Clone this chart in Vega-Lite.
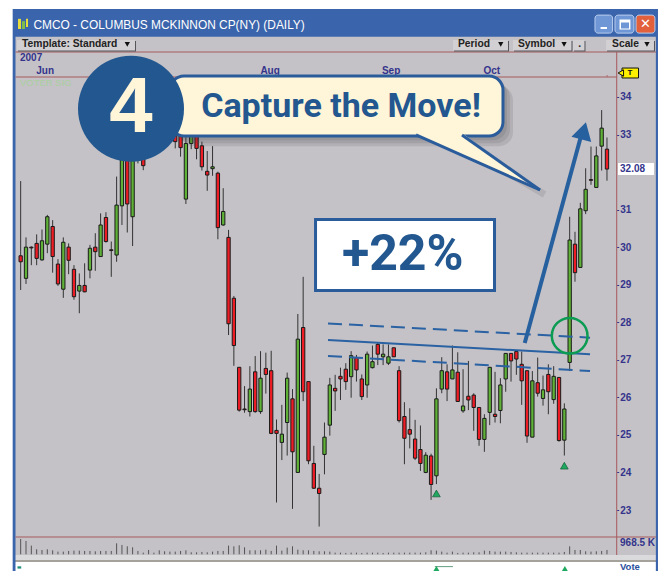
{"$schema":"https://vega.github.io/schema/vega-lite/v6.json","width":665,"height":571,"padding":0,"autosize":{"type":"none"},"background":"#FFFFFF","config":{"view":{"stroke":null}},"resolve":{"scale":{"y":"independent"}},
"datasets":{
"candles":[
{"x":0,"o":29.77,"h":31.76,"l":28.86,"c":29.61,"v":970},{"x":1,"o":29.17,"h":30.26,"l":29.02,"c":30.0,"v":844},{"x":2,"o":30.0,"h":30.02,"l":29.52,"c":29.98,"v":549},{"x":3,"o":30.1,"h":30.34,"l":29.52,"c":29.7,"v":317},{"x":4,"o":29.66,"h":30.47,"l":29.64,"c":30.17,"v":274},{"x":5,"o":30.08,"h":30.86,"l":29.84,"c":30.81,"v":317},{"x":6,"o":30.55,"h":30.72,"l":29.32,"c":29.75,"v":253},{"x":7,"o":29.55,"h":29.68,"l":28.97,"c":29.02,"v":169},{"x":8,"o":28.88,"h":30.26,"l":28.65,"c":30.13,"v":169},{"x":9,"o":30.0,"h":30.1,"l":29.28,"c":29.65,"v":211},
{"x":10,"o":29.41,"h":29.52,"l":28.6,"c":28.68,"v":232},{"x":11,"o":28.83,"h":29.3,"l":28.24,"c":28.98,"v":232},{"x":12,"o":28.98,"h":29.57,"l":28.8,"c":28.81,"v":211},{"x":13,"o":29.39,"h":30.06,"l":29.17,"c":29.97,"v":211},{"x":14,"o":30.0,"h":30.37,"l":29.37,"c":29.88,"v":190},{"x":15,"o":29.75,"h":30.9,"l":29.75,"c":30.59,"v":211},{"x":16,"o":30.79,"h":30.93,"l":30.12,"c":30.15,"v":211},{"x":17,"o":29.93,"h":30.15,"l":29.21,"c":29.91,"v":211},{"x":18,"o":29.79,"h":31.88,"l":29.61,"c":31.12,"v":696},{"x":19,"o":31.1,"h":33.4,"l":30.59,"c":33.1,"v":591},
{"x":20,"o":33.4,"h":33.6,"l":30.39,"c":31.15,"v":506},{"x":21,"o":30.81,"h":33.3,"l":30.03,"c":33.0,"v":443},{"x":22,"o":32.35,"h":32.8,"l":32.23,"c":32.33,"v":211},{"x":23,"o":32.6,"h":33.0,"l":32.05,"c":32.17,"v":105},{"x":24,"o":33.3,"h":33.9,"l":33.2,"c":33.7,"v":274},{"x":25,"o":33.8,"h":34.0,"l":33.3,"c":33.5,"v":105},{"x":26,"o":33.4,"h":34.0,"l":33.3,"c":33.8,"v":253},{"x":27,"o":33.7,"h":33.9,"l":33.2,"c":33.4,"v":190},{"x":28,"o":33.3,"h":33.8,"l":33.2,"c":33.6,"v":169},{"x":29,"o":33.2,"h":33.4,"l":32.63,"c":32.81,"v":169},
{"x":30,"o":33.2,"h":33.3,"l":32.41,"c":32.65,"v":211},{"x":31,"o":31.28,"h":33.1,"l":31.15,"c":32.76,"v":253},{"x":32,"o":32.76,"h":33.4,"l":32.61,"c":33.2,"v":127},{"x":33,"o":33.1,"h":33.3,"l":32.34,"c":32.63,"v":127},{"x":34,"o":32.7,"h":32.81,"l":32.04,"c":32.14,"v":148},{"x":35,"o":32.02,"h":32.56,"l":31.5,"c":31.92,"v":127},{"x":36,"o":32.09,"h":32.69,"l":31.9,"c":32.14,"v":169},{"x":37,"o":31.97,"h":32.01,"l":30.21,"c":30.52,"v":211},{"x":38,"o":30.59,"h":31.57,"l":30.57,"c":30.95,"v":211},{"x":39,"o":30.26,"h":30.46,"l":27.66,"c":27.96,"v":549},
{"x":40,"o":28.64,"h":28.7,"l":26.84,"c":27.38,"v":506},{"x":41,"o":26.8,"h":26.8,"l":25.62,"c":25.66,"v":570},{"x":42,"o":25.69,"h":26.3,"l":25.59,"c":25.67,"v":443},{"x":43,"o":25.62,"h":26.83,"l":25.49,"c":26.22,"v":253},{"x":44,"o":26.68,"h":27.1,"l":25.59,"c":25.62,"v":253},{"x":45,"o":25.62,"h":27.23,"l":25.56,"c":26.51,"v":253},{"x":46,"o":26.77,"h":27.19,"l":26.1,"c":26.61,"v":295},{"x":47,"o":26.71,"h":27.24,"l":25.02,"c":25.04,"v":211},{"x":48,"o":25.12,"h":25.41,"l":23.2,"c":25.04,"v":549},{"x":49,"o":24.8,"h":25.8,"l":24.33,"c":25.02,"v":232},
{"x":50,"o":25.33,"h":26.66,"l":24.45,"c":26.51,"v":422},{"x":51,"o":25.96,"h":26.22,"l":23.03,"c":24.55,"v":506},{"x":52,"o":24.0,"h":28.22,"l":24.0,"c":27.55,"v":295},{"x":53,"o":27.86,"h":29.21,"l":25.9,"c":26.15,"v":253},{"x":54,"o":26.42,"h":26.42,"l":24.22,"c":24.31,"v":253},{"x":55,"o":24.24,"h":24.71,"l":23.56,"c":23.58,"v":211},{"x":56,"o":23.58,"h":23.96,"l":22.56,"c":23.44,"v":190},{"x":57,"o":24.48,"h":25.33,"l":23.95,"c":24.94,"v":190},{"x":58,"o":25.26,"h":26.52,"l":24.98,"c":26.33,"v":169},{"x":59,"o":26.24,"h":26.6,"l":25.64,"c":26.17,"v":105},
{"x":60,"o":26.56,"h":26.79,"l":25.93,"c":26.49,"v":105},{"x":61,"o":26.75,"h":26.91,"l":26.2,"c":26.42,"v":84},{"x":62,"o":26.55,"h":27.23,"l":25.99,"c":27.11,"v":105},{"x":63,"o":27.06,"h":27.13,"l":26.42,"c":26.73,"v":105},{"x":64,"o":26.49,"h":26.61,"l":25.93,"c":26.02,"v":84},{"x":65,"o":26.33,"h":27.22,"l":25.99,"c":27.15,"v":105},{"x":66,"o":26.79,"h":27.38,"l":26.77,"c":26.95,"v":105},{"x":67,"o":27.41,"h":27.47,"l":26.86,"c":27.15,"v":105},{"x":68,"o":27.08,"h":27.41,"l":26.86,"c":27.15,"v":84},{"x":69,"o":26.91,"h":27.41,"l":26.86,"c":27.08,"v":105},
{"x":70,"o":27.32,"h":27.32,"l":27.08,"c":27.08,"v":105},{"x":71,"o":26.71,"h":26.83,"l":25.33,"c":25.38,"v":105},{"x":72,"o":25.49,"h":25.87,"l":24.22,"c":24.91,"v":105},{"x":73,"o":25.14,"h":25.71,"l":24.64,"c":25.02,"v":105},{"x":74,"o":24.89,"h":25.4,"l":24.33,"c":24.38,"v":105},{"x":75,"o":24.61,"h":25.25,"l":24.04,"c":24.24,"v":105},{"x":76,"o":24.0,"h":24.54,"l":23.98,"c":24.46,"v":127},{"x":77,"o":24.44,"h":24.5,"l":23.27,"c":23.68,"v":253},{"x":78,"o":23.91,"h":26.24,"l":23.69,"c":25.96,"v":232},{"x":79,"o":26.22,"h":27.07,"l":26.11,"c":26.71,"v":169},
{"x":80,"o":26.68,"h":26.88,"l":25.9,"c":26.22,"v":105},{"x":81,"o":26.49,"h":27.38,"l":26.49,"c":26.73,"v":169},{"x":82,"o":26.67,"h":27.2,"l":25.89,"c":25.89,"v":84},{"x":83,"o":25.64,"h":26.75,"l":25.59,"c":25.77,"v":105},{"x":84,"o":26.03,"h":26.97,"l":25.66,"c":25.93,"v":105},{"x":85,"o":26.06,"h":26.11,"l":25.11,"c":25.73,"v":127},{"x":86,"o":25.73,"h":25.73,"l":24.71,"c":24.88,"v":127},{"x":87,"o":24.88,"h":25.55,"l":24.55,"c":25.44,"v":232},{"x":88,"o":25.6,"h":26.8,"l":25.26,"c":26.8,"v":211},{"x":89,"o":25.55,"h":26.68,"l":25.33,"c":25.49,"v":169},
{"x":90,"o":25.65,"h":26.51,"l":25.31,"c":26.33,"v":169},{"x":91,"o":26.49,"h":27.17,"l":26.15,"c":27.17,"v":169},{"x":92,"o":27.17,"h":27.17,"l":26.42,"c":26.97,"v":148},{"x":93,"o":27.22,"h":27.26,"l":26.6,"c":27.02,"v":127},{"x":94,"o":26.88,"h":27.22,"l":25.8,"c":26.44,"v":105},{"x":95,"o":26.71,"h":26.71,"l":24.79,"c":24.97,"v":105},{"x":96,"o":24.94,"h":26.7,"l":24.94,"c":26.44,"v":105},{"x":97,"o":26.39,"h":27.06,"l":26.02,"c":26.11,"v":105},{"x":98,"o":25.97,"h":26.58,"l":25.78,"c":26.2,"v":105},{"x":99,"o":26.61,"h":26.88,"l":25.55,"c":26.15,"v":105},
{"x":100,"o":25.94,"h":26.83,"l":25.83,"c":26.56,"v":105},{"x":101,"o":26.53,"h":26.53,"l":24.82,"c":24.85,"v":105},{"x":102,"o":24.86,"h":25.84,"l":24.45,"c":25.69,"v":148},{"x":103,"o":26.93,"h":30.81,"l":26.7,"c":30.19,"v":506},{"x":104,"o":30.08,"h":30.41,"l":29.08,"c":29.32,"v":274},{"x":105,"o":29.46,"h":31.18,"l":29.46,"c":31.02,"v":274},{"x":106,"o":30.97,"h":32.1,"l":30.88,"c":31.54,"v":190},{"x":107,"o":31.8,"h":32.68,"l":31.66,"c":31.78,"v":169},{"x":108,"o":31.59,"h":32.68,"l":31.59,"c":32.43,"v":190},{"x":109,"o":32.69,"h":33.65,"l":32.04,"c":33.17,"v":211},{"x":110,"o":32.61,"h":32.92,"l":31.77,"c":32.08,"v":274}
],
"panels":[
{"part":"window","x":-1.5,"x2":119.57,"y":36.34,"y2":21.3755},
{"part":"body","x":-0.97,"x2":119.17,"y":35.6,"y2":21.8},
{"part":"band","x":-0.97,"x2":119.17,"y":21.8,"y2":21.67},
{"part":"bandline","x":-0.97,"x2":119.17,"y":21.67,"y2":21.615},
{"part":"paper","x":-0.97,"x2":119.17,"y":21.615,"y2":21.3755},
{"part":"hline","x":-0.97,"x2":119.17,"y":35.21,"y2":35.184},
{"part":"hline","x":-0.97,"x2":111.83,"y":34.545,"y2":34.518},
{"part":"hline","x":-0.97,"x2":119.17,"y":22.295,"y2":22.268},
{"part":"hline","x":111.73,"x2":111.92,"y":35.2,"y2":21.8},
{"part":"hline","x":109.95,"x2":110.1,"y":34.585,"y2":34.53},
{"part":"shade","x":-0.5,"x2":21.64,"y":35.49,"y2":35.21},
{"part":"shade","x":81.3,"x2":91.62,"y":35.49,"y2":35.21},
{"part":"shade","x":92.56,"x2":103.53,"y":35.49,"y2":35.21},
{"part":"shade","x":103.82,"x2":105.97,"y":35.49,"y2":35.21},
{"part":"shade","x":110.01,"x2":119.01,"y":35.49,"y2":35.21},
{"part":"button","x":-0.69,"x2":21.45,"y":35.517,"y2":35.237},
{"part":"button","x":81.1,"x2":91.43,"y":35.517,"y2":35.237},
{"part":"button","x":92.37,"x2":103.34,"y":35.517,"y2":35.237},
{"part":"button","x":103.63,"x2":105.78,"y":35.517,"y2":35.237},
{"part":"button","x":109.82,"x2":118.82,"y":35.517,"y2":35.237},
{"part":"iconY","x":-0.5,"x2":0.06,"y":36.08,"y2":35.81},
{"part":"iconG","x":0.25,"x2":0.81,"y":36.02,"y2":35.81},
{"part":"iconY","x":1.0,"x2":1.38,"y":36.08,"y2":35.86},
{"part":"teal","x":-0.6,"x2":0.1,"y":21.5,"y2":21.44}
],
"controls":[
{"part":"min","x":107.75,"x2":111.05,"y":36.18,"y2":35.7},
{"part":"max","x":111.5,"x2":115.06,"y":36.18,"y2":35.7},
{"part":"close","x":115.45,"x2":119.0,"y":36.18,"y2":35.7}
],
"glyphs":[
{"part":"white","x":108.8,"x2":110.0,"y":35.863,"y2":35.81},
{"part":"white","x":112.35,"x2":114.4,"y":36.063,"y2":35.796},
{"part":"blue","x":112.63,"x2":114.13,"y":35.983,"y2":35.823}
]
},
"encoding":{
"x":{"field":"x","type":"quantitative","title":null,"axis":null,"scale":{"domain":[-3.878,120.886],"nice":false,"zero":false,"padding":0}},
"y":{"field":"y","type":"quantitative","title":null,"axis":null,"scale":{"domain":[21.3755,36.582],"nice":false,"zero":false}}
},
"layer":[
{"data":{"name":"panels"},"mark":{"type":"rect"},"encoding":{"x2":{"field":"x2"},"y2":{"field":"y2"},"color":{"field":"part","type":"nominal","legend":null,"scale":{"domain":["window","body","band","bandline","paper","hline","shade","button","iconY","iconG","teal"],"range":["#3A64AB","#C4C2C6","#DAD9DB","#A5A29C","#FFFFFF","#A65A5E","#55555A","#D2D0D2","#E6DC3C","#7DBB4A","#1F8F78"]}}}},
{"data":{"name":"controls"},"mark":{"type":"rect","cornerRadius":3,"stroke":"#B9CDEE","strokeWidth":1},"encoding":{"x2":{"field":"x2"},"y2":{"field":"y2"},"color":{"condition":{"test":"datum.part=='close'","value":"#E2613C"},"value":"#6F97D6"}}},
{"data":{"name":"glyphs"},"mark":{"type":"rect"},"encoding":{"x2":{"field":"x2"},"y2":{"field":"y2"},"color":{"condition":{"test":"datum.part=='blue'","value":"#6F97D6"},"value":"#FFFFFF"}}},
{"data":{"values":[{"x":117.23,"y":35.943,"t":"✕"}]},"mark":{"type":"text","font":"DejaVu Sans","fontWeight":"bold","fontSize":13,"color":"#FFFFFF","align":"center","baseline":"middle"},"encoding":{"text":{"field":"t"}}},
{"data":{"values":[{"x":2.4,"y":35.916,"t":"CMCO - COLUMBUS MCKINNON CP(NY) (DAILY)"}]},"mark":{"type":"text","font":"Liberation Sans","fontSize":11.9,"color":"#FFFFFF","align":"left","baseline":"middle"},"encoding":{"text":{"field":"t"}}},
{"data":{"values":[{"x":0.25,"y":35.397,"t":"Template: Standard"},{"x":82.05,"y":35.397,"t":"Period"},{"x":93.3,"y":35.397,"t":"Symbol"},{"x":104.6,"y":35.397,"t":"."},{"x":110.95,"y":35.397,"t":"Scale"}]},"mark":{"type":"text","font":"Liberation Sans","fontWeight":"bold","fontSize":10.3,"color":"#222222","align":"left","baseline":"middle"},"encoding":{"text":{"field":"t"}}},
{"data":{"values":[{"x":20,"y":35.4},{"x":90.07,"y":35.4},{"x":101.95,"y":35.4},{"x":117.5,"y":35.4}]},"mark":{"type":"point","shape":"triangle-down","filled":true,"size":28,"color":"#111111","opacity":1}},
{"data":{"values":[{"x":-0.126,"y":35.037,"t":"2007"}]},"mark":{"type":"text","font":"Liberation Sans","fontWeight":"bold","fontSize":10,"color":"#34348C","align":"left","baseline":"middle"},"encoding":{"text":{"field":"t"}}},
{"data":{"values":[{"x":4.6,"y":34.69,"t":"Jun"},{"x":46.8,"y":34.69,"t":"Aug"},{"x":69.5,"y":34.69,"t":"Sep"},{"x":88.4,"y":34.69,"t":"Oct"}]},"mark":{"type":"text","font":"Liberation Sans","fontWeight":"bold","fontSize":10,"color":"#34348C","align":"center","baseline":"middle"},"encoding":{"text":{"field":"t"}}},
{"data":{"values":[{"x":-0.126,"y":34.37,"t":"VOTER SIG"}]},"mark":{"type":"text","font":"Liberation Sans","fontSize":9.5,"color":"#A9CFA0","align":"left","baseline":"middle"},"encoding":{"text":{"field":"t"}}},
{"data":{"name":"candles"},"mark":{"type":"rule","color":"#555555","strokeWidth":1},"encoding":{"y":{"field":"v","type":"quantitative","title":null,"axis":null,"scale":{"domain":[-1057,35087],"nice":false,"zero":false}},"y2":{"datum":0}}},
{"data":{"name":"candles"},"mark":{"type":"rule","color":"#333333","strokeWidth":1},"encoding":{
"y":{"field":"h","type":"quantitative","title":null,"scale":{"domain":[21.3755,36.582],"nice":false,"zero":false},"axis":{"orient":"right","offset":-48.3,"values":[23,24,25,26,27,28,29,30,31,33,34],"format":"d","tickSize":2,"tickColor":"#34348C","domain":false,"grid":false,"labelPadding":1,"labelFont":"Liberation Sans","labelFontWeight":"bold","labelFontSize":10,"labelColor":"#34348C","labelOverlap":false,"zindex":1}},"y2":{"field":"l"}}},
{"data":{"name":"candles"},"mark":{"type":"bar","width":3.3,"stroke":"#1A1A1A","strokeWidth":1},"encoding":{"y":{"field":"o","type":"quantitative","title":null,"axis":null,"scale":{"domain":[21.3755,36.582],"nice":false,"zero":false}},"y2":{"field":"c"},"color":{"condition":{"test":"datum.c>datum.o","value":"#5FB137"},"value":"#EE1C25"}}},
{"data":{"values":[{"x":112.07,"x2":118.82,"y":32.241,"y2":31.921}]},"mark":{"type":"rect","color":"#FFFFFF"},"encoding":{"x2":{"field":"x2"},"y2":{"field":"y2"}}},
{"data":{"values":[{"x":112.45,"y":32.068,"t":"32.08"}]},"mark":{"type":"text","font":"Liberation Sans","fontWeight":"bold","fontSize":10,"color":"#34348C","align":"left","baseline":"middle"},"encoding":{"text":{"field":"t"}}},
{"data":{"values":[{"x":112.45,"y":22.13,"t":"968.5 K"}]},"mark":{"type":"text","font":"Liberation Sans","fontWeight":"bold","fontSize":10,"color":"#34348C","align":"left","baseline":"middle"},"encoding":{"text":{"field":"t"}}},
{"data":{"values":[{"x":112.82,"x2":115.92,"y":34.77,"y2":34.505}]},"mark":{"type":"rect","color":"#FFF000","stroke":"#111111","strokeWidth":1},"encoding":{"x2":{"field":"x2"},"y2":{"field":"y2"}}},
{"data":{"values":[{"x":112.6,"y":34.638}]},"mark":{"type":"point","shape":"triangle-left","filled":true,"size":40,"color":"#FFF000","stroke":"#111111","strokeWidth":1,"opacity":1}},
{"data":{"values":[{"x":114.3,"y":34.638,"t":"T"}]},"mark":{"type":"text","font":"Liberation Sans","fontWeight":"bold","fontSize":8,"color":"#111111","align":"center","baseline":"middle"},"encoding":{"text":{"field":"t"}}},
{"data":{"values":[{"x":114.3,"y":21.49,"t":"Vote"}]},"mark":{"type":"text","font":"Liberation Sans","fontWeight":"bold","fontSize":9.5,"color":"#2A4F9E","align":"center","baseline":"middle"},"encoding":{"text":{"field":"t"}}},
{"data":{"values":[{"x":77.7,"x2":81.1,"y":21.5,"y2":21.48}]},"mark":{"type":"rect","color":"#2F7F55"},"encoding":{"x2":{"field":"x2"},"y2":{"field":"y2"}}},
{"data":{"values":[{"x":78,"y":21.43},{"x":102.1,"y":21.43}]},"mark":{"type":"point","shape":"triangle-up","filled":true,"size":50,"color":"#1FA85F","opacity":1}},
{"data":{"values":[{"x":78,"y":23.44},{"x":102,"y":24.18}]},"mark":{"type":"point","shape":"triangle-up","filled":true,"size":60,"color":"#1FA85F","stroke":"#155C38","strokeWidth":0.7,"opacity":1}},
{"data":{"values":[{"x":57.66,"y":27.527},{"x":106.82,"y":27.147}]},"mark":{"type":"line","color":"#2A62A3","strokeWidth":2},"encoding":{}},
{"data":{"values":[{"x":57.66,"y":27.97,"k":"upper"},{"x":106.82,"y":27.589,"k":"upper"},{"x":57.66,"y":27.1,"k":"lower"},{"x":106.82,"y":26.7,"k":"lower"}]},"mark":{"type":"line","color":"#2A62A3","strokeWidth":2,"strokeDash":[14,7]},"encoding":{"detail":{"field":"k"}}},
{"data":{"values":[{"x":103,"y":27.64}]},"mark":{"type":"point","shape":"circle","filled":false,"size":1274,"stroke":"#0B9B52","strokeWidth":2.5,"opacity":1}},
{"data":{"values":[{"x":94.57,"y":27.447},{"x":105.13,"y":32.96}]},"mark":{"type":"line","color":"#27609F","strokeWidth":4},"encoding":{}},
{"data":{"values":[{"x":105.62,"y":33.1}]},"mark":{"type":"point","shape":"triangle-up","filled":true,"size":420,"angle":15,"color":"#27609F","opacity":1}},
{"data":{"values":[{"x":55.32,"x2":88.9,"y":30.737,"y2":28.845}]},"mark":{"type":"rect","color":"#FFFFFF","stroke":"#2A5C9B","strokeWidth":3},"encoding":{"x2":{"field":"x2"},"y2":{"field":"y2"}}},
{"data":{"values":[{"x":71.68,"y":29.79,"t":"+22%"}]},"mark":{"type":"text","font":"Roboto","fontWeight":"bold","fontSize":50,"color":"#23578F","align":"center","baseline":"middle"},"encoding":{"text":{"field":"t"}}},
{"data":{"values":[{"x":28.77,"x2":91.24,"y":34.45,"y2":32.85},{"x":29.33,"x2":91.8,"y":34.37,"y2":32.77},{"x":29.9,"x2":92.37,"y":34.29,"y2":32.69}]},"mark":{"type":"rect","color":"#3A3A44","opacity":0.13,"cornerRadius":14},"encoding":{"x2":{"field":"x2"},"y2":{"field":"y2"}}},
{"data":{"values":[{"x":84,"y":32.6},{"x":98.3,"y":31.4}]},"mark":{"type":"line","color":"#3A3A44","opacity":0.13,"strokeWidth":7},"encoding":{}},
{"data":{"values":[{"x":28.02,"x2":90.49,"y":34.558,"y2":32.96}]},"mark":{"type":"rect","color":"#FFF5D8","stroke":"#2A5C9B","strokeWidth":3,"cornerRadius":14},"encoding":{"x2":{"field":"x2"},"y2":{"field":"y2"}}},
{"data":{"values":[{"x":74.17,"y":33.04,"y2":32.987},{"x":82.8,"y":33.04,"y2":32.444},{"x":97.43,"y":31.522,"y2":31.522}]},"mark":{"type":"area","color":"#FFF5D8","opacity":1},"encoding":{"y2":{"field":"y2"}}},
{"data":{"values":[{"x":74.17,"y":32.987,"k":"a"},{"x":97.43,"y":31.522,"k":"a"},{"x":82.8,"y":32.987,"k":"b"},{"x":97.43,"y":31.522,"k":"b"}]},"mark":{"type":"line","color":"#2A5C9B","strokeWidth":3},"encoding":{"detail":{"field":"k"}}},
{"data":{"values":[{"x":60.1,"y":33.73,"t":"Capture the Move!"}]},"mark":{"type":"text","font":"Roboto","fontWeight":"bold","fontSize":34,"color":"#23578F","align":"center","baseline":"middle"},"encoding":{"text":{"field":"t"}}},
{"data":{"values":[{"x":20.7,"y":33.687}]},"mark":{"type":"point","shape":"circle","filled":true,"size":11236,"color":"#23578F","opacity":1}},
{"data":{"values":[{"x":20.7,"y":33.687,"t":"4"}]},"mark":{"type":"text","font":"Liberation Sans","fontWeight":"bold","fontSize":78,"color":"#FFF5D8","align":"center","baseline":"middle"},"encoding":{"text":{"field":"t"}}}
]}
